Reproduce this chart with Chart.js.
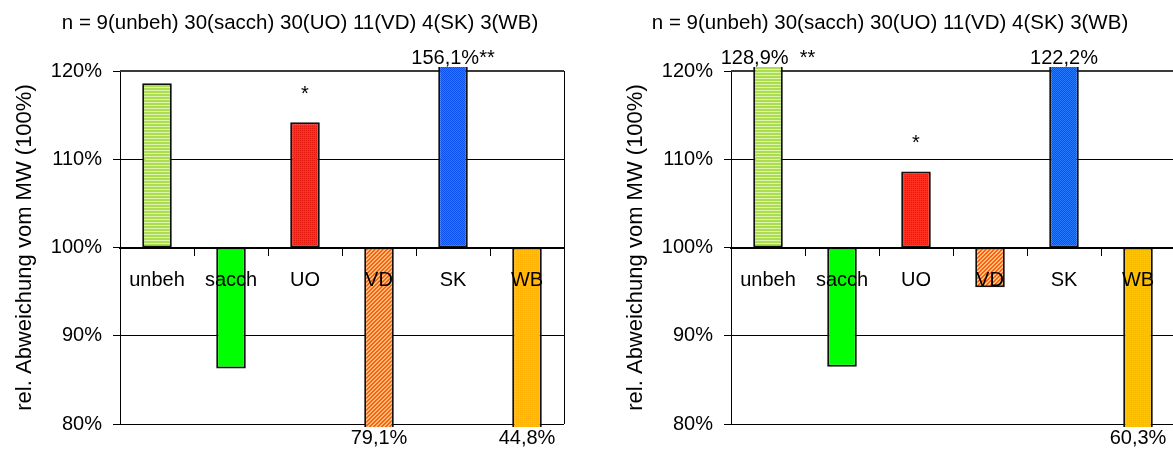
<!DOCTYPE html>
<html>
<head>
<meta charset="utf-8">
<script src="https://cdn.jsdelivr.net/npm/chart.js@4.4.1/dist/chart.umd.min.js"></script>
<style>
  body { margin: 0; background: #fff; overflow: hidden; }
  #wrap { position: relative; width: 1173px; height: 450px; overflow: hidden; }
  canvas { position: absolute; top: 0; }
  #left { left: 0; }
  #right { left: 611px; }
</style>
</head>
<body>
<div id="wrap">
  <canvas id="left" width="611" height="450"></canvas>
  <canvas id="right" width="611" height="450"></canvas>
</div>
<script>
// data
const categories = ["unbeh", "sacch", "UO", "VD", "SK", "WB"];
const leftValues = [118.6, 86.3, 114.2, 79.1, 156.1, 44.8];
const rightValues = [128.9, 86.5, 108.6, 95.5, 122.2, 60.3];
const leftNotes = ["", "", "*", "79,1%", "156,1%**", "44,8%"];
const rightNotes = ["128,9%  **", "", "*", "", "122,2%", "60,3%"];
const baseline = 100;
const yTicks = [80, 90, 100, 110, 120];
const titleText = "n = 9(unbeh) 30(sacch) 30(UO) 11(VD) 4(SK) 3(WB)";
const yTitle = "rel. Abweichung vom MW (100%)";

const FONT = "'Liberation Sans', Arial, sans-serif";
Chart.defaults.font.family = FONT;
Chart.defaults.font.size = 20;
Chart.defaults.color = "#000";

// small tiles to mimic the office-style fill patterns
function tile(w, h, draw) {
  const c = document.createElement("canvas");
  c.width = w; c.height = h;
  const g = c.getContext("2d");
  draw(g);
  return g.createPattern(c, "repeat");
}
const fills = [
  tile(4, 3, g => { g.fillStyle = "#acdc50"; g.fillRect(0, 0, 4, 3); g.fillStyle = "#dcf4ac"; g.fillRect(0, 0, 4, 1); }),
  "#00ff00",
  tile(2, 2, g => { g.fillStyle = "#ff2e1e"; g.fillRect(0, 0, 2, 2); g.fillStyle = "#e0180e"; g.fillRect(0, 0, 1, 1); }),
  tile(4, 4, g => {
    g.fillStyle = "#ffc468"; g.fillRect(0, 0, 4, 4);
    g.fillStyle = "#ff5a22";
    for (let i = 0; i < 4; i++) { g.fillRect(i, 3 - i, 1, 1); g.fillRect((i + 1) % 4, 3 - i, 1, 1); }
  }),
  tile(2, 2, g => { g.fillStyle = "#2a7aff"; g.fillRect(0, 0, 2, 2); g.fillStyle = "#0a50ee"; g.fillRect(0, 0, 1, 1); g.fillRect(1, 1, 1, 1); }),
  tile(2, 2, g => { g.fillStyle = "#ffc200"; g.fillRect(0, 0, 2, 2); g.fillStyle = "#ffb000"; g.fillRect(0, 0, 1, 1); })
];

// plot frame around the chart area
const frame = {
  id: "frame",
  beforeDatasetsDraw(chart) {
    const { ctx, chartArea: a } = chart;
    ctx.save();
    ctx.strokeStyle = "#000";
    ctx.lineWidth = 1;
    ctx.beginPath();
    ctx.moveTo(Math.round(a.right) + 0.5, a.top);
    ctx.lineTo(Math.round(a.right) + 0.5, a.bottom);
    ctx.stroke();
    ctx.strokeStyle = "#3a3a3a";
    ctx.lineWidth = 2;
    ctx.beginPath();
    ctx.moveTo(a.left, Math.round(a.top));
    ctx.lineTo(a.right, Math.round(a.top));
    ctx.stroke();
    ctx.restore();
  }
};

// heading + value / significance notes
const notesPlugin = {
  id: "notes",
  afterDraw(chart, args, opts) {
    const { ctx, chartArea, scales: { x, y } } = chart;
    const data = chart.data.datasets[0].data;
    ctx.save();
    ctx.fillStyle = "#000";
    ctx.textAlign = "center";
    ctx.textBaseline = "middle";
    ctx.font = "20.5px " + FONT;
    ctx.fillText(titleText, opts.titleX, 23);
    ctx.font = "20px " + FONT;
    opts.list.forEach((t, i) => {
      if (!t) return;
      const v = data[i][1];
      const px = x.getPixelForValue(i);
      let py;
      if (v > y.max) py = chartArea.top - 13;
      else if (v < y.min) py = chartArea.bottom + 14;
      else py = y.getPixelForValue(v) - 28;
      ctx.fillText(t, px, py);
    });
    ctx.restore();
  }
};

function buildChart(id, values, notes, titleX) {
  return new Chart(document.getElementById(id), {
    type: "bar",
    data: {
      labels: categories,
      datasets: [{
        data: values.map(v => [baseline, v]),
        backgroundColor: fills,
        borderColor: "#111",
        borderWidth: 2,
        borderSkipped: false,
        categoryPercentage: 1,
        barPercentage: 0.4,
        clip: { left: false, right: false, top: 4, bottom: 3 }
      }]
    },
    options: {
      responsive: false,
      animation: false,
      layout: { padding: { left: 0, right: 47, top: 71, bottom: 26 } },
      plugins: {
        legend: { display: false },
        tooltip: { enabled: false },
        title: { display: false },
        notes: { list: notes, titleX: titleX }
      },
      scales: {
        x: {
          position: { y: baseline },
          grid: { drawOnChartArea: false, drawTicks: true, tickLength: 7, color: "#000", offset: true, z: 1 },
          border: { display: true, color: "#000", width: 2, z: 1 },
          ticks: { padding: 14, color: "#000", maxRotation: 0, autoSkip: false, z: 2 }
        },
        y: {
          min: yTicks[0],
          max: yTicks[yTicks.length - 1],
          afterFit: s => { s.width = 120; },
          afterBuildTicks: s => { s.ticks = yTicks.map(v => ({ value: v })); },
          ticks: { padding: 11, color: "#000", callback: v => v + "%" },
          grid: { color: "#000", lineWidth: 1, tickLength: 7 },
          border: { color: "#000", width: 1 },
          title: { display: true, text: yTitle, color: "#000", font: { size: 22 }, padding: { top: 12, bottom: 0 } }
        }
      }
    },
    plugins: [frame, notesPlugin]
  });
}

buildChart("left", leftValues, leftNotes, 300);
buildChart("right", rightValues, rightNotes, 279);
</script>
</body>
</html>
